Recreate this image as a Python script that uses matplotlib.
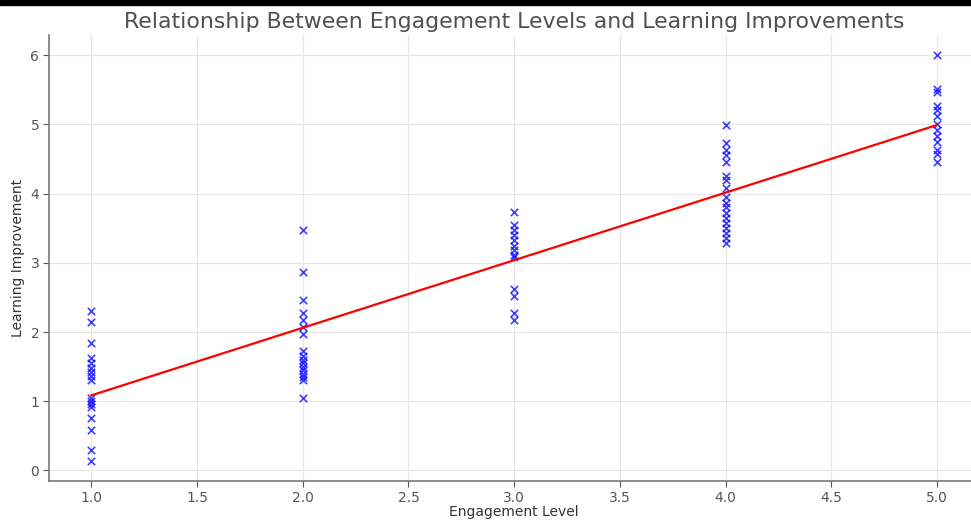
import numpy as np
import matplotlib
matplotlib.use("Agg")
import matplotlib.pyplot as plt
from matplotlib.patches import Rectangle

level1 = [2.31, 2.15, 1.84, 1.63, 1.55, 1.48, 1.42, 1.36, 1.31, 1.05, 1.0, 0.96, 0.92, 0.76, 0.59, 0.29, 0.14]
level2 = [3.48, 2.87, 2.46, 2.28, 2.17, 2.07, 1.97, 1.72, 1.66, 1.6, 1.55, 1.5, 1.45, 1.4, 1.35, 1.3, 1.04]
level3 = [3.74, 3.55, 3.47, 3.4, 3.33, 3.25, 3.18, 3.12, 3.08, 2.62, 2.52, 2.27, 2.18]
level4 = [4.99, 4.73, 4.63, 4.56, 4.46, 4.26, 4.2, 4.08, 3.95, 3.87, 3.8, 3.72, 3.65, 3.58, 3.5, 3.43, 3.36, 3.29]
level5 = [6.0, 5.51, 5.47, 5.27, 5.21, 5.12, 5.0, 4.92, 4.83, 4.75, 4.63, 4.57, 4.46]
levels = [1, 2, 3, 4, 5]
groups = [level1, level2, level3, level4, level5]

x = np.concatenate([[lv] * len(g) for lv, g in zip(levels, groups)]).astype(float)
y = np.concatenate(groups)

fig = plt.figure(figsize=(9.71, 5.21), dpi=100)
ax = fig.add_axes([0.0505, 0.0768, 0.958, 0.856])
ax.scatter(x, y, marker='x', color='blue', s=28, linewidths=1.2, alpha=0.75, zorder=3)

slope, intercept = np.polyfit(x, y, 1)
xs = np.array([min(levels), max(levels)], dtype=float)
ax.plot(xs, slope * xs + intercept, color='red', linewidth=1.6, zorder=4)

ax.set_xlim(0.8, 5.2)
ax.set_title('Relationship Between Engagement Levels and Learning Improvements',
             fontsize=15.8, color='#505050', pad=5)
ax.set_xlabel('Engagement Level', fontsize=10, color='#333333', labelpad=0)
ax.set_ylabel('Learning Improvement', fontsize=10, color='#333333', labelpad=4)
ax.set_xticks(np.arange(1.0, 5.01, 0.5))
ax.set_yticks(range(0, 7))
ax.tick_params(colors='#555555', labelsize=10, length=4, direction='out', pad=3)
ax.grid(True, color='#e6e6e6', linewidth=0.8, zorder=0)
ax.set_axisbelow(True)
for s in ['top', 'right']:
    ax.spines[s].set_visible(False)
for s in ['left', 'bottom']:
    ax.spines[s].set_color('#777777')
    ax.spines[s].set_linewidth(1.2)

fig.patches.append(Rectangle((0, 1 - 5/521), 1, 5/521, transform=fig.transFigure,
                             color='black', zorder=10))
fig.savefig('out.png', dpi=100)
